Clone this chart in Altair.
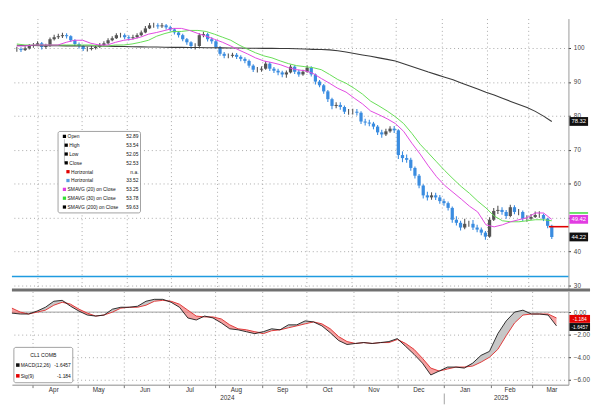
import altair as alt
import pandas as pd
import numpy as np

FONT = "Liberation Sans"
W, H1, H2 = 567, 275, 95

# ---------------- data ----------------
close = [99.7, 99.4, 99.9, 100.6, 100.9, 101.4, 100.3, 100.6, 102.6, 103.2,
         103.5, 103.8, 103.5, 102.3, 101.2, 100.6, 99.7, 99.7, 100.0, 100.3,
         100.9, 101.4, 102.3, 102.9, 103.8, 103.8, 103.2, 102.9, 103.2, 103.8,
         104.6, 105.8, 106.7, 106.7, 106.4, 106.7, 106.1, 105.5, 104.6, 103.8,
         102.6, 101.7, 100.6, 100.6, 103.8, 104.1, 102.6, 102.0, 100.3, 98.3,
         97.7, 97.7, 98.0, 97.4, 96.8, 96.2, 94.8, 93.6, 93.6, 93.9,
         95.4, 93.9, 93.3, 92.8, 92.2, 92.8, 94.5, 93.0, 92.2, 93.0,
         94.2, 92.2, 90.1, 89.0, 87.2, 84.9, 82.9, 83.2, 82.6, 81.2,
         81.2, 81.2, 80.9, 78.3, 78.0, 77.7, 76.8, 75.1, 74.5, 75.4,
         76.2, 75.7, 68.4, 67.5, 67.0, 64.6, 62.3, 59.4, 56.5, 55.9,
         56.5, 55.9, 54.8, 54.2, 52.8, 49.3, 48.4, 47.0, 48.1, 48.1,
         47.0, 46.4, 45.5, 44.3, 49.3, 51.9, 52.2, 51.6, 50.4, 53.0,
         51.6, 51.6, 49.6, 49.6, 50.1, 50.7, 50.7, 49.6, 47.5, 44.2]

high = [100.4, 100.2, 100.5, 101.2, 101.5, 102.0, 101.8, 101.3, 103.1, 103.9,
        104.2, 104.5, 104.4, 103.8, 102.6, 101.6, 100.9, 100.4, 100.6, 100.9,
        101.5, 102.0, 102.9, 103.5, 104.4, 104.5, 104.3, 103.8, 103.9, 104.4,
        105.2, 106.5, 107.4, 107.5, 107.3, 107.4, 107.1, 106.6, 105.9, 105.0,
        104.2, 103.0, 102.0, 101.4, 104.4, 104.8, 104.5, 103.2, 102.4, 100.6,
        98.8, 98.4, 98.6, 98.5, 97.9, 97.3, 96.6, 95.2, 94.4, 94.6,
        96.1, 95.9, 94.4, 93.9, 93.3, 93.4, 95.1, 94.9, 93.6, 93.6,
        94.9, 94.6, 92.5, 90.6, 89.4, 87.6, 85.3, 84.0, 84.0, 83.0,
        82.0, 82.1, 82.0, 81.3, 79.1, 78.8, 78.2, 77.3, 75.9, 76.2,
        76.9, 77.0, 76.0, 69.5, 68.6, 67.6, 65.0, 62.8, 59.8, 57.6,
        57.4, 57.3, 56.6, 55.5, 54.7, 53.2, 50.3, 49.0, 49.6, 49.0,
        49.2, 47.8, 47.0, 46.0, 50.0, 52.8, 53.4, 53.0, 52.2, 53.7,
        53.6, 52.5, 52.0, 50.6, 51.0, 51.7, 51.8, 51.1, 49.9, 47.8]

low = [98.9, 98.8, 99.1, 99.6, 100.1, 100.6, 99.6, 99.8, 100.4, 102.2,
       102.7, 103.0, 102.8, 101.8, 100.6, 99.9, 99.1, 99.0, 99.3, 99.6,
       100.0, 100.6, 101.1, 102.0, 102.7, 103.1, 102.6, 102.2, 102.5, 102.9,
       103.5, 104.4, 105.6, 106.0, 105.7, 105.9, 105.5, 104.9, 104.0, 103.1,
       102.0, 101.0, 99.8, 99.6, 100.3, 103.2, 101.9, 101.3, 99.7, 97.7,
       97.0, 97.0, 97.2, 96.8, 96.1, 95.5, 94.2, 92.9, 92.8, 93.0,
       93.6, 93.2, 92.6, 92.0, 91.4, 91.2, 92.5, 92.3, 91.5, 91.8,
       92.7, 91.6, 89.2, 88.4, 86.5, 84.1, 81.9, 82.2, 81.8, 80.5,
       80.3, 80.4, 80.1, 77.6, 77.1, 76.9, 76.0, 74.3, 73.5, 74.0,
       75.0, 74.9, 67.2, 66.3, 66.1, 63.8, 61.5, 58.6, 55.6, 55.0,
       55.2, 55.1, 54.0, 53.4, 52.0, 48.4, 47.6, 46.1, 46.5, 47.2,
       46.3, 45.6, 44.7, 43.4, 44.0, 48.9, 51.0, 50.8, 49.6, 50.0,
       50.9, 50.6, 48.9, 48.7, 49.2, 49.8, 49.9, 48.9, 46.8, 43.6]

sma20 = [100.6, 100.6, 100.9, 100.9, 100.9, 100.9, 101.7, 102.3, 102.3, 101.4,
         100.9, 100.9, 101.7, 102.3, 102.6, 103.2, 104.1, 104.6, 105.2, 105.8,
         105.8, 105.2, 104.3, 103.5, 102.6, 101.7, 100.6, 99.4, 98.3, 97.1,
         96.2, 95.7, 95.1, 94.2, 93.6, 93.3, 92.5, 91.0, 89.6, 88.1,
         87.0, 85.2, 83.5, 81.4, 80.3, 79.1, 77.7, 75.4, 71.9, 68.7,
         65.2, 62.0, 59.4, 57.4, 55.4, 53.3, 51.6, 47.8, 47.2, 47.8,
         48.7, 49.3, 49.9, 51.3, 51.3, 49.4]

sma30 = [101.2, 100.9, 100.9, 100.9, 100.9, 100.9, 100.9, 100.9, 100.9, 100.9,
         100.6, 100.6, 100.9, 100.9, 101.2, 101.7, 102.3, 103.5, 104.3, 104.9,
         104.9, 105.2, 105.2, 104.9, 104.1, 103.2, 102.3, 100.9, 99.7, 98.6,
         97.7, 97.1, 96.2, 95.4, 94.8, 94.5, 94.2, 93.6, 92.2, 90.7,
         89.6, 88.1, 86.4, 84.3, 82.9, 81.4, 79.7, 77.7, 74.8, 71.6,
         69.0, 66.4, 63.8, 61.4, 59.1, 57.1, 54.8, 52.8, 50.4, 49.0,
         48.7, 48.7, 49.0, 49.3, 49.3, 49.0]

sma200 = [100.8, 100.75, 100.75, 100.7, 100.7, 100.7, 100.65, 100.65, 100.6, 100.6,
          100.6, 100.55, 100.5, 100.45, 100.4, 100.35, 100.3, 100.3, 100.25, 100.2,
          100.2, 100.15, 100.15, 100.1, 100.1, 100.05, 100.0, 100.0, 99.95, 99.95,
          99.9, 99.9, 99.85, 99.85, 99.8, 99.7, 99.6, 99.55, 99.45, 99.2,
          98.85, 98.4, 97.95, 97.55, 97.1, 96.65, 96.15, 95.35, 94.55, 93.75,
          92.9, 92.15, 91.4, 90.65, 89.7, 88.8, 87.9, 86.95, 86.15, 85.2,
          84.25, 83.35, 82.45, 81.3, 79.9, 78.32]

macd = [-0.09, -0.17, -0.17, 0.09, 0.43, 0.96, 1.04, 0.52, 0.09, -0.26,
        -0.35, -0.26, 0.26, 0.43, 0.43, 0.52, 0.96, 1.13, 1.13, 0.87,
        0.43, -0.52, -0.70, -0.35, -0.52, -0.96, -1.48, -1.57, -1.74, -1.91,
        -1.74, -1.48, -1.57, -1.13, -1.13, -0.78, -0.87, -1.22, -1.83, -2.52,
        -2.87, -2.78, -2.70, -2.78, -2.70, -2.61, -2.35, -3.04, -3.74, -4.52,
        -5.57, -5.22, -4.87, -4.87, -4.96, -4.52, -3.83, -3.48, -1.91, -0.78,
        0.00, 0.17, -0.17, -0.17, -0.26, -1.22]

signal = [0.35, 0.00, -0.17, 0.00, 0.17, 0.61, 0.87, 0.70, 0.26, -0.09,
          -0.35, -0.26, 0.00, 0.35, 0.43, 0.43, 0.61, 0.96, 1.04, 0.96,
          0.70, 0.17, -0.35, -0.43, -0.43, -0.61, -1.13, -1.48, -1.57, -1.74,
          -1.91, -1.65, -1.57, -1.39, -1.22, -1.04, -0.87, -1.04, -1.48, -2.17,
          -2.61, -2.78, -2.70, -2.78, -2.70, -2.70, -2.43, -2.78, -3.30, -4.09,
          -4.96, -5.22, -5.04, -4.87, -4.87, -4.78, -4.43, -4.00, -3.30, -2.09,
          -0.96, -0.26, -0.17, -0.17, -0.17, -0.52]

first_day = "2024-03-18"
last_day = "2025-03-17"
axis_start = "2024-03-18"
axis_end = "2025-03-25"

month_starts = ["2024-04-01", "2024-05-01", "2024-06-01", "2024-07-01", "2024-08-01",
                "2024-09-01", "2024-10-01", "2024-11-01", "2024-12-01", "2025-01-01",
                "2025-02-01", "2025-03-01"]
month_names = ["Apr", "May", "Jun", "Jul", "Aug", "Sep", "Oct", "Nov", "Dec", "Jan", "Feb", "Mar"]
month_mids = ["2024-04-15", "2024-05-15", "2024-06-15", "2024-07-15", "2024-08-15",
              "2024-09-15", "2024-10-15", "2024-11-15", "2024-12-15", "2025-01-15",
              "2025-02-14", "2025-03-14"]
year_names = ["2024", "2025"]
year_mids = ["2024-08-09", "2025-02-08"]
year_break = "2025-01-01"

price_ticks = [30, 40, 50, 60, 70, 80, 90, 100]
price_hidden_tick = 50          # label covered by the last-value flag
macd_ticks = [0, -2, -4, -6]

blue_level = 32.52
red_level = 47.25
red_start = "2025-03-15"

last_vals = [78.32, 49.42, 44.22]
last_texts = ["78.32", "49.42", "44.22"]
last_fills = ["#111111", "#e23de2", "#111111"]
green_flag = 51.3

macd_box_vals = [-0.6, -1.32]
macd_box_texts = ["-1.184", "-1.6457"]
macd_box_fills = ["#e30000", "#111111"]

legend_names = ["Open", "High", "Low", "Close", "Horizontal", "Horizontal",
                "SMAVG (20) on Close", "SMAVG (30) on Close", "SMAVG (200) on Close"]
legend_vals = ["52.89", "53.54", "52.05", "52.53", "n.a.", "33.52", "53.25", "53.78", "59.63"]
legend_cols = ["#000000", "#000000", "#000000", "#000000", "#e00000", "#5b9be0",
               "#e23de2", "#33dd33", "#000000"]
legend_level = [0, 1, 1, 1, 2, 2, 0, 0, 0]

macd_title = "CL1 COMB"
macd_leg_names = ["MACD(12,26)", "Sig(9)"]
macd_leg_vals = ["-1.6457", "-1.184"]
macd_leg_cols = ["#111111", "#e30000"]

# ---------------- helpers ----------------
def dt(s):
    y, m, d = (int(v) for v in s.split("-"))
    return alt.DateTime(year=y, month=m, date=d)

xs = alt.Scale(domain=[dt(axis_start), dt(axis_end)], nice=False)
ys1 = alt.Scale(domain=[29.0, 108.7], nice=False, zero=False)
ys2 = alt.Scale(domain=[-6.43, 1.83], nice=False, zero=False)
grid_vals = [dt(s) for s in month_starts]
GRID = "#a8a8a8"

xax1 = alt.Axis(values=grid_vals, grid=True, gridDash=[1, 3], gridColor=GRID,
                labels=False, ticks=False, domain=False, title=None)
yax1 = alt.Axis(orient="right", values=price_ticks, format="d", grid=True,
                gridDash=[1, 3], gridColor=GRID, labelFontSize=6.5, labelColor="#444444",
                labelFont=FONT, tickSize=2, tickColor="#222222", domainColor="#999999",
                labelPadding=3, title=None,
                labelExpr=f"datum.value == {price_hidden_tick} ? '' : datum.label")
xax2 = alt.Axis(values=grid_vals, grid=True, gridDash=[1, 3], gridColor=GRID,
                labels=False, ticks=True, tickSize=3, tickColor="#777777",
                domain=True, domainColor="#8a8a8a", title=None)
yax2 = alt.Axis(orient="right", values=macd_ticks, format=".2f", grid=True,
                gridDash=[1, 3], gridColor=GRID, labelFontSize=6.5, labelColor="#444444",
                labelFont=FONT, tickSize=2, tickColor="#222222", domainColor="#999999",
                labelPadding=3, title=None)

def X1(f):
    return alt.X(f, scale=xs, axis=xax1)

def Y1(f):
    return alt.Y(f, scale=ys1, axis=yax1)

def X2(f):
    return alt.X(f, scale=xs, axis=xax2)

def Y2(f):
    return alt.Y(f, scale=ys2, axis=yax2)

one = pd.DataFrame({"a": [0]})

# ---------------- tables ----------------
dates_px = pd.date_range(first_day, last_day, periods=len(close))
dates_ln = pd.date_range(first_day, last_day, periods=len(macd))

price = pd.DataFrame({"date": dates_px, "close": close, "high": high, "low": low})
price["open"] = price["close"].shift(1).fillna(price["close"])
price["dir"] = np.where(price["close"] >= price["open"], "up", "down")

lines = pd.DataFrame({"date": dates_ln, "sma20": sma20, "sma30": sma30,
                      "sma200": sma200, "macd": macd, "signal": signal})
lines["top"] = lines[["macd", "signal"]].max(axis=1)

dir_color = alt.Color("dir:N", scale=alt.Scale(domain=["up", "down"],
                      range=["#555555", "#3a8ce0"]), legend=None)

# ---------------- top panel ----------------
blue = alt.Chart(pd.DataFrame({"v": [blue_level]})).mark_rule(
    color="#1f9be0", strokeWidth=1.6).encode(
    y=Y1("v:Q"), x=alt.value(0), x2=alt.value(W))

wicks = alt.Chart(price).mark_rule(strokeWidth=1.1).encode(
    x=X1("date:T"), y=Y1("low:Q"), y2="high:Q", color=dir_color)
bodies = alt.Chart(price).mark_bar(width=3.3).encode(
    x=X1("date:T"), y=Y1("open:Q"), y2="close:Q", color=dir_color)

def ma_line(col, color, w=1.0):
    return alt.Chart(lines).mark_line(color=color, strokeWidth=w).encode(
        x=X1("date:T"), y=Y1(f"{col}:Q"))

red = alt.Chart(pd.DataFrame({"d": [red_start], "v": [red_level]})).mark_rule(
    color="#e00000", strokeWidth=1.6).encode(
    x=X1("d:T"), x2=alt.value(W), y=Y1("v:Q"))

gflag = alt.Chart(pd.DataFrame({"v": [green_flag]})).mark_rule(
    color="#44dd44", strokeWidth=1.6).encode(
    y=Y1("v:Q"), x=alt.value(W + 1), x2=alt.value(W + 20))

bx = pd.DataFrame({"v": last_vals, "t": last_texts, "f": last_fills})
bx["lo"] = bx["v"] - 1.3
bx["hi"] = bx["v"] + 1.3
boxes = alt.Chart(bx).mark_rect().encode(
    x=alt.value(W + 1), x2=alt.value(W + 20), y=Y1("lo:Q"), y2="hi:Q",
    color=alt.Color("f:N", scale=None))
box_txt = alt.Chart(bx).mark_text(color="white", fontSize=6, font=FONT).encode(
    x=alt.value(W + 10.5), y=Y1("v:Q"), text="t:N")

sep = alt.Chart(one).mark_rule(color="#707070", strokeWidth=3).encode(
    x=alt.value(0), x2=alt.value(W + 22), y=alt.value(H1 + 1.5))

leg = pd.DataFrame({"name": legend_names, "val": legend_vals,
                    "col": legend_cols, "lvl": legend_level})
leg["row"] = np.arange(len(leg))
leg["py"] = 120 + 9 * leg["row"]
leg["sx"] = 53.5 + 1.8 * leg["lvl"]
leg["tx"] = leg["sx"] + 3.2

leg_box = alt.Chart(one).mark_rect(fill="white", stroke="#8a8a8a", strokeWidth=0.8,
                                   cornerRadius=2).encode(
    x=alt.value(47), x2=alt.value(131), y=alt.value(115), y2=alt.value(198))
leg_tree = alt.Chart(one).mark_rule(color="#999999", strokeWidth=0.6).encode(
    x=alt.value(53.5), y=alt.value(123), y2=alt.value(147))
leg_sw = alt.Chart(leg).mark_square(size=11, opacity=1).encode(
    x=alt.X("sx:Q", scale=None, axis=None), y=alt.Y("py:Q", scale=None, axis=None),
    color=alt.Color("col:N", scale=None))
leg_nm = alt.Chart(leg).mark_text(align="left", baseline="middle", fontSize=5,
                                  font=FONT, color="#111111").encode(
    x=alt.X("tx:Q", scale=None, axis=None), y=alt.Y("py:Q", scale=None, axis=None),
    text="name:N")
leg_vl = alt.Chart(leg).mark_text(align="right", baseline="middle", fontSize=5,
                                  font=FONT, color="#111111").encode(
    x=alt.value(129), y=alt.Y("py:Q", scale=None, axis=None), text="val:N")

top = alt.layer(
    blue, wicks, bodies, ma_line("sma200", "#3a3a3a", 1.1), ma_line("sma30", "#66dd55"),
    ma_line("sma20", "#e048e0"), red, gflag, boxes, box_txt, sep,
    leg_box, leg_tree, leg_sw, leg_nm, leg_vl
).properties(width=W, height=H1)

# ---------------- bottom panel ----------------
zero = alt.Chart(pd.DataFrame({"v": [0]})).mark_rule(color="#a0a0a0", strokeWidth=1).encode(
    y=Y2("v:Q"), x=alt.value(0), x2=alt.value(W))
pink = alt.Chart(lines).mark_area(color="#f07070", opacity=0.65).encode(
    x=X2("date:T"), y=Y2("macd:Q"), y2="top:Q")
grey = alt.Chart(lines).mark_area(color="#bdbdbd", opacity=0.85).encode(
    x=X2("date:T"), y=Y2("signal:Q"), y2="top:Q")
sig_line = alt.Chart(lines).mark_line(color="#e03a3a", strokeWidth=1).encode(
    x=X2("date:T"), y=Y2("signal:Q"))
macd_line = alt.Chart(lines).mark_line(color="#1a1a1a", strokeWidth=0.9).encode(
    x=X2("date:T"), y=Y2("macd:Q"))

mb = pd.DataFrame({"v": macd_box_vals, "t": macd_box_texts, "f": macd_box_fills})
mb["lo"] = mb["v"] - 0.35
mb["hi"] = mb["v"] + 0.35
mboxes = alt.Chart(mb).mark_rect().encode(
    x=alt.value(W + 1), x2=alt.value(W + 22), y=Y2("lo:Q"), y2="hi:Q",
    color=alt.Color("f:N", scale=None))
mbox_txt = alt.Chart(mb).mark_text(color="white", fontSize=5, font=FONT).encode(
    x=alt.value(W + 11.5), y=Y2("v:Q"), text="t:N")

mlab = alt.Chart(pd.DataFrame({"d": month_mids, "t": month_names})).mark_text(
    fontSize=6.5, font=FONT, color="#333333", baseline="top").encode(
    x=X2("d:T"), y=alt.value(H2 + 2), text="t:N")
ylab = alt.Chart(pd.DataFrame({"d": year_mids, "t": year_names})).mark_text(
    fontSize=6.5, font=FONT, color="#333333", baseline="top").encode(
    x=X2("d:T"), y=alt.value(H2 + 11), text="t:N")
ybrk = alt.Chart(pd.DataFrame({"d": [year_break]})).mark_rule(
    color="#888888", strokeWidth=0.8).encode(
    x=X2("d:T"), y=alt.value(H2 + 9), y2=alt.value(H2 + 20))

ml = pd.DataFrame({"name": macd_leg_names, "val": macd_leg_vals, "col": macd_leg_cols})
ml["py"] = [75, 86]
mleg_box = alt.Chart(one).mark_rect(fill="white", stroke="#8a8a8a", strokeWidth=0.8,
                                    cornerRadius=2).encode(
    x=alt.value(2), x2=alt.value(62), y=alt.value(57), y2=alt.value(93))
mleg_title = alt.Chart(one).mark_text(fontSize=5.2, font=FONT, color="#111111",
                                      text=macd_title).encode(
    x=alt.value(32), y=alt.value(65))
mleg_sw = alt.Chart(ml).mark_square(size=13, opacity=1).encode(
    x=alt.value(6), y=alt.Y("py:Q", scale=None, axis=None),
    color=alt.Color("col:N", scale=None))
mleg_nm = alt.Chart(ml).mark_text(align="left", baseline="middle", fontSize=5,
                                  font=FONT, color="#111111").encode(
    x=alt.value(9), y=alt.Y("py:Q", scale=None, axis=None), text="name:N")
mleg_vl = alt.Chart(ml).mark_text(align="right", baseline="middle", fontSize=5,
                                  font=FONT, color="#111111").encode(
    x=alt.value(60), y=alt.Y("py:Q", scale=None, axis=None), text="val:N")

bottom = alt.layer(
    zero, pink, grey, sig_line, macd_line, mboxes, mbox_txt, mlab, ylab, ybrk,
    mleg_box, mleg_title, mleg_sw, mleg_nm, mleg_vl
).properties(width=W, height=H2)

chart = alt.vconcat(top, bottom, spacing=3).properties(
    padding={"left": 2, "top": 7, "right": 0, "bottom": 0},
    background="white", bounds="flush"
).configure_view(stroke=None)

chart.save("out.html", embed_options={"renderer": "svg", "actions": False})
